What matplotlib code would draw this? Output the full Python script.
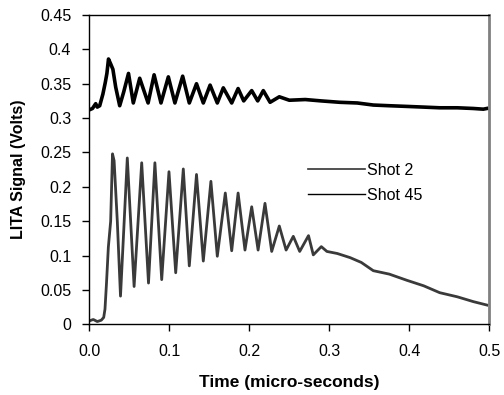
import matplotlib
matplotlib.use("Agg")
import matplotlib.pyplot as plt
from matplotlib.lines import Line2D

plt.rcParams['font.family'] = ['Liberation Sans', 'DejaVu Sans']

# Shot 2 (upper trace) - times in micro-seconds, signal in volts
shot2_t = [0.000, 0.004, 0.008, 0.010, 0.013, 0.017, 0.020, 0.022, 0.024, 0.027, 0.0295,
           0.033, 0.038, 0.043, 0.049, 0.055, 0.063, 0.0735, 0.081, 0.0896, 0.0988,
           0.107, 0.1167, 0.125, 0.134, 0.1425, 0.151, 0.160, 0.1675, 0.178, 0.186,
           0.193, 0.203, 0.2105, 0.2175, 0.226, 0.2375, 0.25, 0.27, 0.29, 0.313,
           0.335, 0.355, 0.375, 0.397, 0.418, 0.438, 0.46, 0.48, 0.4925, 0.497]
shot2_v = [0.312, 0.314, 0.321, 0.316, 0.318, 0.335, 0.352, 0.365, 0.386, 0.378, 0.371,
           0.345, 0.318, 0.338, 0.365, 0.322, 0.358, 0.322, 0.363, 0.322, 0.360,
           0.322, 0.361, 0.322, 0.350, 0.322, 0.348, 0.322, 0.344, 0.322, 0.343,
           0.325, 0.340, 0.325, 0.340, 0.323, 0.331, 0.326, 0.327, 0.325, 0.323,
           0.322, 0.319, 0.318, 0.317, 0.316, 0.315, 0.315, 0.314, 0.313, 0.314]

# Shot 45 (lower trace)
shot45_t = [0.000, 0.005, 0.010, 0.015, 0.018, 0.0196, 0.0215, 0.0238, 0.0267, 0.029,
            0.031, 0.035, 0.039, 0.0475, 0.056, 0.0655, 0.074, 0.082, 0.0905, 0.0996,
            0.108, 0.1175, 0.125, 0.134, 0.1425, 0.152, 0.160, 0.170, 0.178, 0.186,
            0.1946, 0.203, 0.211, 0.2196, 0.228, 0.2375, 0.246, 0.255, 0.263, 0.274,
            0.280, 0.290, 0.297, 0.310, 0.326, 0.340, 0.355, 0.375, 0.397, 0.418,
            0.438, 0.460, 0.480, 0.497]
shot45_v = [0.005, 0.007, 0.004, 0.006, 0.010, 0.022, 0.060, 0.112, 0.150, 0.248,
            0.238, 0.150, 0.041, 0.242, 0.055, 0.235, 0.060, 0.235, 0.065, 0.222,
            0.075, 0.226, 0.085, 0.218, 0.092, 0.208, 0.099, 0.191, 0.107, 0.191,
            0.108, 0.171, 0.108, 0.176, 0.106, 0.143, 0.108, 0.128, 0.106, 0.129,
            0.101, 0.113, 0.106, 0.103, 0.097, 0.090, 0.078, 0.073, 0.064, 0.056,
            0.046, 0.040, 0.033, 0.028]

x_ticks = [0.0, 0.1, 0.2, 0.3, 0.4, 0.5]
x_tick_labels = ["0.0", "0.1", "0.2", "0.3", "0.4", "0.5"]
y_ticks = [0, 0.05, 0.1, 0.15, 0.2, 0.25, 0.3, 0.35, 0.4, 0.45]
y_tick_labels = ["0", "0.05", "0.1", "0.15", "0.2", "0.25", "0.3", "0.35", "0.4", "0.45"]

fig = plt.figure(figsize=(5.04, 3.95), dpi=100)
ax = fig.add_axes([89.3 / 504, 1 - 324.3 / 395, 400 / 504, 309.3 / 395])

ax.plot(shot2_t, shot2_v, color="black", lw=2.6)
ax.plot(shot45_t, shot45_v, color="#3a3a3a", lw=2.0)

ax.set_xlim(0, 0.5)
ax.set_ylim(0, 0.45)
ax.set_xticks(x_ticks)
ax.set_xticklabels(x_tick_labels)
ax.set_yticks(y_ticks)
ax.set_yticklabels(y_tick_labels)
ax.tick_params(direction="out", length=5, width=1, labelsize=11.5, colors="black")
ax.tick_params(axis="x", pad=9)
ax.tick_params(axis="y", pad=8)

for s in ["left", "bottom", "top"]:
    ax.spines[s].set_color("black")
    ax.spines[s].set_linewidth(1)
ax.spines["right"].set_color("#808080")
ax.spines["right"].set_linewidth(2)

ax.set_xlabel("Time (micro-seconds)", fontsize=12.5, fontweight="bold", labelpad=12)
ax.set_ylabel("LITA Signal (Volts)", fontsize=11.5, fontweight="bold", labelpad=10)

handles = [Line2D([], [], color="#333333", lw=1.2), Line2D([], [], color="black", lw=1.0)]
ax.legend(handles, ["Shot 2", "Shot 45"], loc="upper left",
          bbox_to_anchor=(0.53, 0.542), frameon=False, fontsize=11.5,
          handlelength=3.6, handletextpad=0.1, labelspacing=0.62, borderaxespad=0)

fig.savefig("out.png", dpi=100)
